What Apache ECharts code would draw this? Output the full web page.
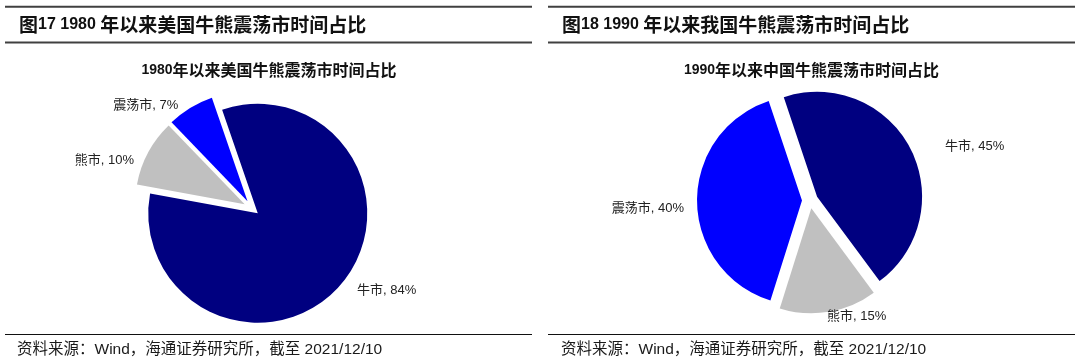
<!DOCTYPE html>
<html><head><meta charset="utf-8">
<script src="https://cdn.jsdelivr.net/npm/echarts@6/dist/echarts.min.js"></script>
<style>html,body{margin:0;padding:0;background:#fff}#c{width:1080px;height:359px}</style>
</head><body><div id="c"></div>
<script>
// ---- data ----
const categories = ['牛市', '熊市', '震荡市'];
const usValues = [84, 10, 7];
const cnValues = [45, 15, 40];
const sliceColors = ['#000080', '#C0C0C0', '#0000FF'];
const panelFig = ['图', '图'];
const panelNum = ['17 1980 ', '18 1990 '];
const panelRest = ['年以来美国牛熊震荡市时间占比', '年以来我国牛熊震荡市时间占比'];
const chartYear = ['1980', '1990'];
const chartRest = ['年以来美国牛熊震荡市时间占比', '年以来中国牛熊震荡市时间占比'];
const sourceText = '资料来源：Wind，海通证券研究所，截至 2021/12/10';

const LAT = '"Liberation Sans", Arial, "Noto Sans CJK SC", sans-serif';
const CJK = '"Noto Sans CJK SC", "Liberation Sans", sans-serif';

// label placement styles (per slice)
const usLabelLines = [{length: 8.3, length2: 4.9}, {length: -16.1, length2: 23.4}, {length: 3.3, length2: 5.3}];
const cnLabelLines = [{length: 4.7, length2: 25.6}, {length: 4.2, length2: -7.3}, {length: 5, length2: 3}];
const cnLabelDrop = [false, false, true];

function makeData(values, lines, drops) {
  return categories.map((n, i) => ({
    name: n, value: values[i], selected: true,
    itemStyle: {color: sliceColors[i]},
    labelLine: {show: false, length: lines[i].length, length2: lines[i].length2},
    label: (drops && drops[i]) ? {formatter: '\n{b}, {c}%', lineHeight: 13} : {}
  }));
}

const labelBase = {
  show: true, position: 'outside', formatter: '{b}, {c}%',
  color: '#222', fontSize: 13, fontFamily: LAT
};

const panels = [{x0: 5, x1: 532, tx: 19, ftx: 17, cx: 269}, {x0: 548, x1: 1075, tx: 562, ftx: 561, cx: 811.5}];
const graphics = [];
panels.forEach((p, i) => {
  [6.8, 42.5].forEach(y => graphics.push({type: 'line', shape: {x1: p.x0, y1: y, x2: p.x1, y2: y}, style: {stroke: '#404040', lineWidth: 2}, silent: true}));
  graphics.push({type: 'line', shape: {x1: p.x0, y1: 334.5, x2: p.x1, y2: 334.5}, style: {stroke: '#111', lineWidth: 1.2}, silent: true});
  graphics.push({type: 'text', x: p.tx, y: 25, style: {
    text: '{c|' + panelFig[i] + '}{n|' + panelNum[i] + '}{c|' + panelRest[i] + '}',
    verticalAlign: 'middle', align: 'left',
    rich: {c: {fontSize: 19, fontWeight: 'bold', fontFamily: CJK, fill: '#111'}, n: {fontSize: 16, fontWeight: 'bold', fontFamily: LAT, fill: '#111'}}
  }});
  graphics.push({type: 'text', x: p.cx, y: 70, style: {
    text: '{n|' + chartYear[i] + '}{c|' + chartRest[i] + '}',
    verticalAlign: 'middle', align: 'center',
    rich: {c: {fontSize: 16, fontWeight: 'bold', fontFamily: CJK, fill: '#111'}, n: {fontSize: 14, fontWeight: 'bold', fontFamily: LAT, fill: '#111'}}
  }});
  graphics.push({type: 'text', x: p.ftx, y: 350, style: {
    text: sourceText, fontSize: 15.5, fontFamily: LAT, fill: '#1a1a1a', verticalAlign: 'middle', align: 'left'
  }});
});

const chart = echarts.init(document.getElementById('c'), null, {renderer: 'canvas'});
chart.setOption({
  animation: false,
  backgroundColor: '#fff',
  graphic: graphics,
  series: [
    {
      type: 'pie', center: [251.7, 208], radius: 109.5, startAngle: 109, clockwise: true,
      selectedMode: 'multiple', selectedOffset: 8, avoidLabelOverlap: false,
      label: labelBase, labelLine: {show: false},
      select: {itemStyle: {borderWidth: 0}},
      emphasis: {disabled: true},
      data: makeData(usValues, usLabelLines, null)
    },
    {
      type: 'pie', center: [810, 200.4], radius: 105, startAngle: 108.5, clockwise: true,
      selectedMode: 'multiple', selectedOffset: 8, avoidLabelOverlap: false,
      label: labelBase, labelLine: {show: false},
      select: {itemStyle: {borderWidth: 0}},
      emphasis: {disabled: true},
      data: makeData(cnValues, cnLabelLines, cnLabelDrop)
    }
  ]
});
</script></body></html>
